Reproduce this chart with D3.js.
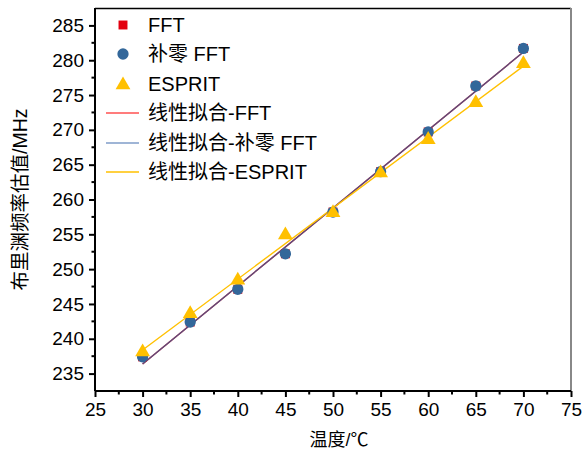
<!DOCTYPE html>
<html><head><meta charset="utf-8">
<script src="https://cdn.jsdelivr.net/npm/d3@7"></script>
<style>
html,body{margin:0;padding:0;background:#fff;}
text{font-family:"Liberation Sans",Arial,"Noto Sans CJK SC",sans-serif;}
</style></head>
<body><svg id="c" width="586" height="454"></svg>
<script>
const temps = [30,35,40,45,50,55,60,65,70];
const fftVals = [237.4,242.4,247.1,252.2,258.2,264.0,269.7,276.3,281.7];
const zpFftVals = [237.4,242.4,247.1,252.2,258.2,264.0,269.7,276.3,281.7];
const espritVals = [238.1,243.6,248.4,254.9,258.1,263.8,268.6,273.9,279.5];
const xTicks = [25,30,35,40,45,50,55,60,65,70,75];
const yTicks = [235,240,245,250,255,260,265,270,275,280,285];
const legendLabels = ["FFT","补零 FFT","ESPRIT","线性拟合-FFT","线性拟合-补零 FFT","线性拟合-ESPRIT"];

const svg = d3.select("#c");
const L=95,R=571,T=8,B=391;
const x = d3.scaleLinear().domain([25,75]).range([L,R]);
const y = d3.scaleLinear().domain([232.5,287.5]).range([B,T]);

const cRed="#e3000f", cBlue="#33679a", cYel="#ffc000";
const cRedL="#ff5050", cBlueL="#3a5f98";

function fit(xs,ys){const mx=d3.mean(xs),my=d3.mean(ys);
 let sxy=0,sxx=0;xs.forEach((v,i)=>{sxy+=(v-mx)*(ys[i]-my);sxx+=(v-mx)*(v-mx);});
 const b=sxy/sxx;return [b,my-b*mx];}

// frame
svg.append("line").attr("x1",L).attr("x2",R).attr("y1",T+0.5).attr("y2",T+0.5).attr("stroke","#000").attr("stroke-width",1.5);
svg.append("line").attr("x1",R).attr("x2",R).attr("y1",T).attr("y2",B).attr("stroke","#888").attr("stroke-width",2);

// axes
const xAx = d3.axisBottom(x).tickValues(xTicks).tickSize(6).tickPadding(6);
const gx = svg.append("g").attr("transform",`translate(0,${B})`).call(xAx);
const yAx = d3.axisLeft(y).tickValues(yTicks).tickSize(6).tickPadding(5);
const gy = svg.append("g").attr("transform",`translate(${L},0)`).call(yAx);
[gx,gy].forEach(g=>{g.select(".domain").attr("stroke","#000").attr("stroke-width",2);
 g.selectAll(".tick line").attr("stroke","#000").attr("stroke-width",2);
 g.selectAll("text").attr("font-size",19).attr("fill","#000").style("font-family",'"Liberation Sans",Arial,sans-serif');});
gx.select(".domain").attr("d",`M${L},0H${R}`);
gy.select(".domain").attr("d",`M0,${B}V${T}`);
// minor ticks
const xMinor = d3.range(27.5,75,5), yMinor = d3.range(237.5,287.5,5);
svg.append("g").selectAll("line").data(xMinor).join("line")
 .attr("x1",d=>x(d)).attr("x2",d=>x(d)).attr("y1",B).attr("y2",B+3.5).attr("stroke","#000").attr("stroke-width",2);
svg.append("g").selectAll("line").data(yMinor).join("line")
 .attr("y1",d=>y(d)).attr("y2",d=>y(d)).attr("x1",L).attr("x2",L-3.5).attr("stroke","#000").attr("stroke-width",2);

// titles
const xt = svg.append("text").attr("x",(L+R)/2+6).attr("y",446).attr("text-anchor","middle").attr("font-size",18);
xt.append("tspan").style("font-family",'"Noto Sans CJK SC",sans-serif').text("温度");
xt.append("tspan").text("/");
xt.append("tspan").style("font-family",'"Noto Sans CJK SC",sans-serif').text("℃");
svg.append("text").attr("transform",`translate(27,${(T+B)/2}) rotate(-90)`).attr("text-anchor","middle").attr("font-size",19.5).text("布里渊频率估值/MHz");

// fit lines
function fitLine(vals,color,w,op){const [b,a]=fit(temps,vals);
 const x0=d3.min(temps),x1=d3.max(temps);
 svg.append("line").attr("x1",x(x0)).attr("y1",y(a+b*x0)).attr("x2",x(x1)).attr("y2",y(a+b*x1))
  .attr("stroke",color).attr("stroke-width",w).attr("opacity",op);}
fitLine(fftVals,cRed,1.4,1);
fitLine(zpFftVals,cBlueL,1.4,0.8);
fitLine(espritVals,cYel,1.4,1);

// markers
const sq=d3.symbol().type(d3.symbolSquare).size(80);
const ci=d3.symbol().type(d3.symbolCircle).size(100);
const tr=d3.symbol().type(d3.symbolTriangle).size(95);
svg.append("g").selectAll("path").data(temps).join("path").attr("d",sq)
 .attr("transform",(d,i)=>`translate(${x(d)},${y(fftVals[i])})`).attr("fill",cRed);
svg.append("g").selectAll("path").data(temps).join("path").attr("d",ci)
 .attr("transform",(d,i)=>`translate(${x(d)},${y(zpFftVals[i])})`).attr("fill",cBlue);
svg.append("g").selectAll("path").data(temps).join("path").attr("d",tr)
 .attr("transform",(d,i)=>`translate(${x(d)},${y(espritVals[i])})`).attr("fill",cYel);

// legend
const lg = svg.append("g");
const rowsY=[25,54,84,113,143,172];
const syms=[[sq,cRed],[ci,cBlue],[tr,cYel]];
const lcols=[cRedL,"#7f9dc8",cYel];
legendLabels.forEach((lab,i)=>{
 const yy=rowsY[i];
 if(i<3){lg.append("path").attr("d",syms[i][0]).attr("fill",syms[i][1]).attr("transform",`translate(123,${yy+(i==2?1:0)})`);}
 else{lg.append("line").attr("x1",106).attr("x2",139).attr("y1",yy).attr("y2",yy).attr("stroke",lcols[i-3]).attr("stroke-width",1.5);}
 lg.append("text").attr("x",148).attr("y",yy+7).attr("font-size",20).text(lab);
});
</script></body></html>
